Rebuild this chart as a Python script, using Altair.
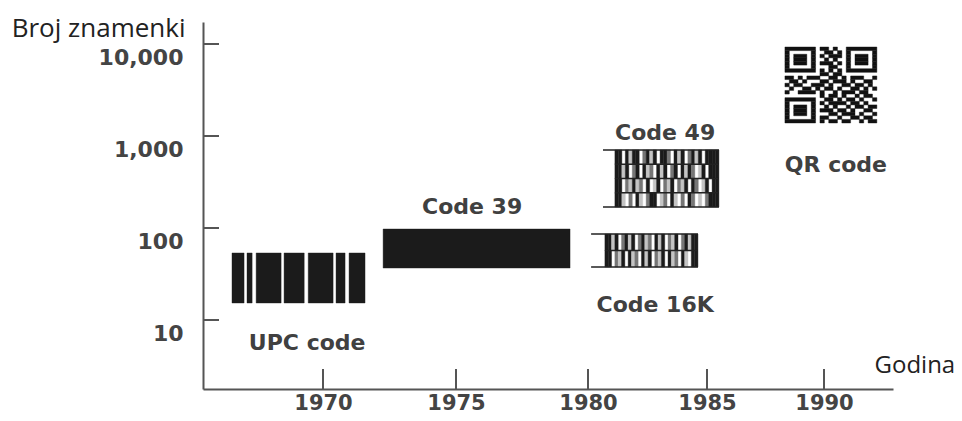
import altair as alt
import pandas as pd
import numpy as np

# ---------------- axes ----------------
X_TICKS = [1970, 1975, 1980, 1985, 1990]
Y_TICKS = [10, 100, 1000, 10000]
X_DOMAIN = [1965.53, 1970, 1975, 1980, 1985, 1990, 1992.95]
X_RANGE = [0, 120, 253, 385, 504, 621, 690]
Y_DOMAIN = [1.778, 17338]

# ---------------- barcodes (year span, digit span) ----------------
UPC_BARS = [(1966.61, 1967.06), (1967.17, 1967.36), (1967.51, 1968.44),
            (1968.55, 1969.30), (1969.45, 1970.38), (1970.49, 1970.83),
            (1970.98, 1971.58)]
UPC_DIGITS = (15.3, 53.5)

CODE39_YEARS = (1972.26, 1979.32)
CODE39_DIGITS = (36.7, 97.5)

CODE49_YEARS = (1981.13, 1985.51)
CODE49_LINE_START = 1980.63
CODE49_DIGITS = (169, 705)
CODE49_ROWS = [
    "330313302313033203130231303333",
    "331302303120313023031320130333",
    "330213120301302130213032013033",
    "331020310233012031020320102333",
]

CODE16K_YEARS = (1980.71, 1984.62)
CODE16K_LINE_START = 1980.13
CODE16K_DIGITS = (37.7, 86)
CODE16K_ROWS = [
    "3313023130231203130213023133",
    "3302130312031302130312031033",
]

QR_YEARS = (1988.33, 1992.26)
QR_DIGITS = (1384, 9275)
QR_ROWS = [
    "111111101101001111111",
    "100000100110101000001",
    "101110101011101011101",
    "101110100101001011101",
    "101110101110101011101",
    "100000100011001000001",
    "111111101010101111111",
    "000000001101100000000",
    "110101110011010111001",
    "011010001101110100110",
    "101100111010011011010",
    "010011010110100110101",
    "100111101001011101100",
    "000000001011010010110",
    "111111100110101101001",
    "100000101011110110100",
    "101110100101001011011",
    "101110101110110100110",
    "101110100011011101001",
    "100000101100100110110",
    "111111101011011001011",
]

LABEL_TEXT = ["UPC code", "Code 39", "Code 49", "Code 16K", "QR code"]
LABEL_YEAR = [1969.41, 1975.61, 1983.24, 1982.82, 1990.51]
LABEL_DIGITS = [4.72, 142, 906, 12.2, 406]

GRAY = {"0": None, "1": "#c4c4c4", "2": "#767676", "3": "#1b1b1b"}
BLACK = "#1b1b1b"

# ---------------- build rectangles ----------------
rects = []
for a, b in UPC_BARS:
    rects.append(dict(x=a, x2=b, y=UPC_DIGITS[0], y2=UPC_DIGITS[1], c=BLACK))
rects.append(dict(x=CODE39_YEARS[0], x2=CODE39_YEARS[1],
                  y=CODE39_DIGITS[0], y2=CODE39_DIGITS[1], c=BLACK))


def log_bounds(lo, hi, n):
    llo, lhi = np.log10(lo), np.log10(hi)
    return [10 ** (lhi - i * (lhi - llo) / n) for i in range(n + 1)]


def striped(years, digits, rows):
    out = []
    bounds = log_bounds(digits[0], digits[1], len(rows))
    for i, row in enumerate(rows):
        m = len(row)
        w = (years[1] - years[0]) / m
        for j, ch in enumerate(row):
            col = GRAY[ch]
            if col:
                out.append(dict(x=years[0] + j * w, x2=years[0] + (j + 1) * w,
                                y=bounds[i + 1], y2=bounds[i], c=col))
    return out, bounds


r49, b49 = striped(CODE49_YEARS, CODE49_DIGITS, CODE49_ROWS)
r16, b16 = striped(CODE16K_YEARS, CODE16K_DIGITS, CODE16K_ROWS)
rects += r49 + r16

# QR modules (run-length merged per row)
qb = log_bounds(QR_DIGITS[0], QR_DIGITS[1], len(QR_ROWS))
for i, row in enumerate(QR_ROWS):
    m = len(row)
    w = (QR_YEARS[1] - QR_YEARS[0]) / m
    j = 0
    while j < m:
        if row[j] == "1":
            k = j
            while k < m and row[k] == "1":
                k += 1
            rects.append(dict(x=QR_YEARS[0] + j * w, x2=QR_YEARS[0] + k * w,
                              y=qb[i + 1], y2=qb[i], c="#111111"))
            j = k
        else:
            j += 1

rect_df = pd.DataFrame(rects)

# frame lines of the stacked codes
lines = []
for start, years, b in [(CODE49_LINE_START, CODE49_YEARS, b49),
                        (CODE16K_LINE_START, CODE16K_YEARS, b16)]:
    lines.append(dict(x=start, x2=years[1], y=b[0]))
    lines.append(dict(x=start, x2=years[1], y=b[-1]))
    for v in b[1:-1]:
        lines.append(dict(x=years[0], x2=years[1], y=v))
line_df = pd.DataFrame(lines)

label_df = pd.DataFrame({"t": LABEL_TEXT, "x": LABEL_YEAR, "y": LABEL_DIGITS})

# ---------------- scales / axes ----------------
xs = alt.Scale(domain=X_DOMAIN, range=X_RANGE, nice=False, zero=False)
ys = alt.Scale(type="log", domain=Y_DOMAIN, nice=False)

AX = "#555555"
xaxis = alt.Axis(values=X_TICKS, format="d", ticks=False, tickSize=0, grid=False,
                 domainColor=AX, domainWidth=2,
                 labelFont="DejaVu Sans", labelFontWeight="bold", labelFontSize=21,
                 labelColor="#444444", labelPadding=14, labelBaseline="middle",
                 labelFlush=False, labelOverlap=False,
                 title="Godina", titleFont="Open Sans", titleFontWeight="normal",
                 titleFontSize=24, titleColor="#222222", titleAlign="left",
                 titleBaseline="alphabetic", titleX=671, titleY=-17)
yaxis = alt.Axis(values=Y_TICKS, format=",d", ticks=False, tickSize=0, grid=False,
                 domainColor=AX, domainWidth=2,
                 labelFont="DejaVu Sans", labelFontWeight="bold", labelFontSize=22,
                 labelColor="#444444", labelPadding=20, labelBaseline="middle",
                 labelOffset=14, labelFlush=False, labelOverlap=False,
                 title="Broj znamenki", titleFont="Open Sans", titleFontWeight="normal",
                 titleFontSize=26, titleColor="#222222", titleAngle=0,
                 titleAlign="right", titleBaseline="alphabetic", titleX=-18, titleY=14)

bars = alt.Chart(rect_df).mark_rect(strokeWidth=0.4).encode(
    x=alt.X("x:Q", scale=xs, axis=xaxis),
    x2="x2:Q",
    y=alt.Y("y:Q", scale=ys, axis=yaxis),
    y2="y2:Q",
    color=alt.Color("c:N", scale=None),
    stroke=alt.Stroke("c:N", scale=None),
)

frame = alt.Chart(line_df).mark_rule(color="#222222", strokeWidth=1.5).encode(
    x=alt.X("x:Q", scale=xs, axis=xaxis),
    x2="x2:Q",
    y=alt.Y("y:Q", scale=ys, axis=yaxis),
)

labels = alt.Chart(label_df).mark_text(
    font="DejaVu Sans", fontWeight="bold", fontSize=22, color="#404040",
    align="center", baseline="alphabetic"
).encode(
    x=alt.X("x:Q", scale=xs, axis=xaxis),
    y=alt.Y("y:Q", scale=ys, axis=yaxis),
    text="t:N",
)

xt = alt.Chart(pd.DataFrame({"x": X_TICKS})).mark_rule(color=AX, strokeWidth=2).encode(
    x=alt.X("x:Q", scale=xs, axis=xaxis),
    y=alt.value(367), y2=alt.value(347),
)
yt = alt.Chart(pd.DataFrame({"y": Y_TICKS})).mark_rule(color=AX, strokeWidth=2).encode(
    y=alt.Y("y:Q", scale=ys, axis=yaxis),
    x=alt.value(0), x2=alt.value(16),
)

chart = alt.layer(bars, frame, labels, xt, yt).properties(
    width=690, height=367,
    padding={"left": 195, "top": 14, "right": 61, "bottom": 24},
    autosize=alt.AutoSizeParams(type="none"),
).configure_view(strokeWidth=0)

chart.save("out.html", embed_options={"renderer": "svg", "actions": False})
